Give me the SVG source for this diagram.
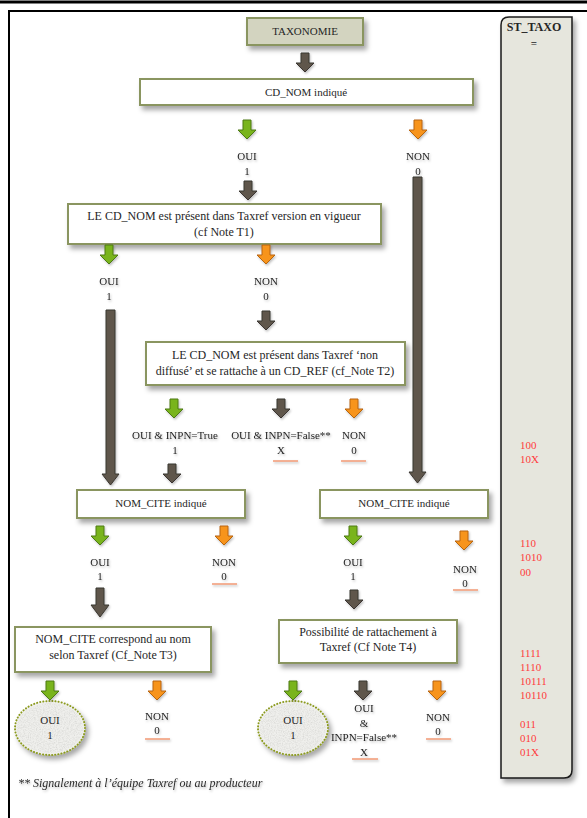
<svg xmlns="http://www.w3.org/2000/svg" width="587" height="818" viewBox="0 0 587 818">
  <style>
    .t { font-family: "Liberation Serif", "Times New Roman", serif; font-size: 11px; fill: #262626; text-anchor: middle; }
    .big { font-size: 12px; }
    .box { fill: #ffffff; stroke: #8a9560; stroke-width: 2; }
    .head { fill: #d3d4c0; stroke: #8a9560; stroke-width: 2; }
    .code { font-family: "Liberation Serif", "Times New Roman", serif; font-size: 11px; fill: #ff3b3b; }
    .dark { fill: #5e574b; stroke: #3b3630; stroke-width: 1; }
    .green { fill: #79b41b; stroke: #4e7a12; stroke-width: 1; }
    .orange { fill: #f7941d; stroke: #b8650f; stroke-width: 1; }
    .ul { stroke: #f29a76; stroke-width: 1.5; }
    .oval { fill: #efefec; stroke: #8b9a1e; stroke-width: 2; stroke-dasharray: 0.1 3; stroke-linecap: round; }
  </style>
  <defs>
    <filter id="sh" x="-20%" y="-20%" width="150%" height="160%">
      <feDropShadow dx="3" dy="4" stdDeviation="2.5" flood-color="#000" flood-opacity="0.35"/>
    </filter>
    <filter id="tsh" x="-10%" y="-30%" width="130%" height="170%">
      <feDropShadow dx="1" dy="1.5" stdDeviation="1" flood-color="#000" flood-opacity="0.25"/>
    </filter>
    <!-- speckled stone texture for the end ovals -->
    <filter id="grain" x="0" y="0" width="100%" height="100%">
      <feTurbulence type="fractalNoise" baseFrequency="0.85" numOctaves="2" seed="4" result="n"/>
      <feColorMatrix in="n" type="matrix" values="0 0 0 0 0.62  0 0 0 0 0.62  0 0 0 0 0.6  0 0 0 1.4 -0.55" result="dots"/>
      <feComposite in="dots" in2="SourceGraphic" operator="in"/>
    </filter>
    <!-- short block arrow, top-centre at origin -->
    <path id="arr" d="M-4,0 H4 V10 H9 L0,19 L-9,10 H-4 Z"/>
  </defs>

  <rect width="587" height="818" fill="#ffffff"/>

  <!-- frame -->
  <line x1="0" y1="2" x2="587" y2="2" stroke="#000" stroke-width="3"/>
  <path d="M9,818 V11 H587" fill="none" stroke="#000" stroke-width="2"/>

  <!-- result column -->
  <g id="st-taxo">
    <path d="M509,17 H572 V770 Q572,778 564,778 H501 V25 Q501,17 509,17 Z" fill="#e6e6dd" stroke="#1a1a1a" stroke-width="1.5" filter="url(#sh)"/>
    <text class="t big" x="534" y="31" font-weight="bold" fill="#222">ST_TAXO</text>
    <text class="t" x="534" y="47" font-weight="bold">=</text>
    <g class="code">
      <text x="520" y="449">100</text>
      <text x="520" y="463">10X</text>
      <text x="520" y="547">110</text>
      <text x="520" y="561">1010</text>
      <text x="520" y="576">00</text>
      <text x="520" y="657">1111</text>
      <text x="520" y="671">1110</text>
      <text x="520" y="685">10111</text>
      <text x="520" y="699">10110</text>
      <text x="520" y="728">011</text>
      <text x="520" y="742">010</text>
      <text x="520" y="756">01X</text>
    </g>
  </g>

  <!-- nodes -->
  <g id="taxonomie">
    <rect class="head" x="247" y="18" width="116" height="27" filter="url(#sh)"/>
    <text class="t" x="305" y="35">TAXONOMIE</text>
  </g>
  <g id="cd-nom">
    <rect class="box" x="140" y="79" width="333" height="26" filter="url(#sh)"/>
    <text class="t" x="306" y="96">CD_NOM indiqué</text>
  </g>
  <g id="taxref-vigueur">
    <rect class="box" x="68" y="204" width="313" height="40" filter="url(#sh)"/>
    <text class="t big" x="224" y="220">LE CD_NOM est présent dans Taxref version en vigueur</text>
    <text class="t big" x="224" y="236">(cf Note T1)</text>
  </g>
  <g id="taxref-non-diffuse">
    <rect class="box" x="146" y="342" width="259" height="43" filter="url(#sh)"/>
    <text class="t big" x="275" y="359">LE CD_NOM est présent dans Taxref ‘non</text>
    <text class="t big" x="275" y="375">diffusé’ et se rattache à un CD_REF (cf_Note T2)</text>
  </g>
  <g id="nom-cite-1">
    <rect class="box" x="77" y="490" width="168" height="28" filter="url(#sh)"/>
    <text class="t" x="161" y="507">NOM_CITE indiqué</text>
  </g>
  <g id="nom-cite-2">
    <rect class="box" x="320" y="490" width="168" height="28" filter="url(#sh)"/>
    <text class="t" x="404" y="507">NOM_CITE indiqué</text>
  </g>
  <g id="nom-cite-taxref">
    <rect class="box" x="15" y="627" width="196" height="45" filter="url(#sh)"/>
    <text class="t big" x="113" y="643">NOM_CITE correspond au nom</text>
    <text class="t big" x="113" y="659">selon Taxref (Cf_Note T3)</text>
  </g>
  <g id="rattachement">
    <rect class="box" x="279" y="620" width="178" height="43" filter="url(#sh)"/>
    <text class="t big" x="368" y="636">Possibilité de rattachement à</text>
    <text class="t big" x="368" y="651">Taxref  (Cf Note T4)</text>
  </g>
  <g id="oui-final-1">
    <ellipse class="oval" cx="50" cy="728" rx="35" ry="27" filter="url(#sh)"/>
    <ellipse cx="50" cy="728" rx="33" ry="25" fill="#fff" filter="url(#grain)"/>
    <text class="t" x="50" y="724">OUI</text>
    <text class="t" x="50" y="739">1</text>
  </g>
  <g id="oui-final-2">
    <ellipse class="oval" cx="293" cy="728" rx="35" ry="27" filter="url(#sh)"/>
    <ellipse cx="293" cy="728" rx="33" ry="25" fill="#fff" filter="url(#grain)"/>
    <text class="t" x="293" y="724">OUI</text>
    <text class="t" x="293" y="739">1</text>
  </g>

  <!-- connectors -->
  <g id="connectors" filter="url(#tsh)">
    <use href="#arr" class="dark" x="305" y="53"/>
    <use href="#arr" class="green" x="247" y="120"/>
    <use href="#arr" class="orange" x="418" y="120"/>
    <use href="#arr" class="dark" x="248" y="181"/>
    <path class="dark" d="M413,177 H422 V472 H426 L417.5,483 L409,472 H413 Z"/>
    <use href="#arr" class="green" x="109" y="245"/>
    <use href="#arr" class="orange" x="266" y="245"/>
    <path class="dark" d="M106,310 H115 V474 H119 L110.5,485 L102,474 H106 Z"/>
    <use href="#arr" class="dark" x="266" y="311"/>
    <use href="#arr" class="green" x="174" y="399"/>
    <use href="#arr" class="dark" x="281" y="399"/>
    <use href="#arr" class="orange" x="354" y="399"/>
    <use href="#arr" class="dark" x="172" y="464"/>
    <use href="#arr" class="green" x="100" y="526"/>
    <use href="#arr" class="orange" x="224" y="526"/>
    <use href="#arr" class="green" x="353" y="526"/>
    <use href="#arr" class="orange" x="464" y="531"/>
    <path class="dark" d="M96,588 H104 V605 H109 L100,617 L91,605 H96 Z"/>
    <use href="#arr" class="dark" x="354" y="590"/>
    <use href="#arr" class="green" x="50" y="681"/>
    <use href="#arr" class="orange" x="157" y="681"/>
    <use href="#arr" class="green" x="293" y="681"/>
    <use href="#arr" class="dark" x="363" y="681"/>
    <use href="#arr" class="orange" x="437" y="681"/>
  </g>

  <!-- branch labels -->
  <g id="labels" filter="url(#tsh)">
    <text class="t" x="247" y="160">OUI</text>
    <text class="t" x="247" y="175">1</text>
    <text class="t" x="418" y="160">NON</text>
    <text class="t" x="418" y="175">0</text>

    <text class="t" x="109" y="285">OUI</text>
    <text class="t" x="109" y="300">1</text>
    <text class="t" x="266" y="285">NON</text>
    <text class="t" x="266" y="300">0</text>

    <text class="t" x="175" y="439">OUI &amp; INPN=True</text>
    <text class="t" x="175" y="454">1</text>
    <text class="t" x="281" y="439">OUI &amp; INPN=False**</text>
    <text class="t" x="281" y="454">X</text>
    <line class="ul" x1="273" y1="461" x2="298" y2="461"/>
    <text class="t" x="354" y="439">NON</text>
    <text class="t" x="354" y="454">0</text>
    <line class="ul" x1="341" y1="461" x2="366" y2="461"/>

    <text class="t" x="100" y="566">OUI</text>
    <text class="t" x="100" y="580">1</text>
    <text class="t" x="224" y="566">NON</text>
    <text class="t" x="224" y="580">0</text>
    <line class="ul" x1="212" y1="584" x2="237" y2="584"/>
    <text class="t" x="353" y="566">OUI</text>
    <text class="t" x="353" y="580">1</text>
    <text class="t" x="465" y="573">NON</text>
    <text class="t" x="465" y="587">0</text>
    <line class="ul" x1="453" y1="590" x2="478" y2="590"/>

    <text class="t" x="157" y="720">NON</text>
    <text class="t" x="157" y="734">0</text>
    <line class="ul" x1="145" y1="739" x2="170" y2="739"/>
    <text class="t" x="364" y="712">OUI</text>
    <text class="t" x="364" y="727">&amp;</text>
    <text class="t" x="364" y="741">INPN=False**</text>
    <text class="t" x="364" y="756">X</text>
    <line class="ul" x1="352" y1="759" x2="378" y2="759"/>
    <text class="t" x="438" y="721">NON</text>
    <text class="t" x="438" y="735">0</text>
    <line class="ul" x1="426" y1="739" x2="451" y2="739"/>
  </g>

  <text x="18" y="787" font-family="Liberation Serif, serif" font-size="12" font-style="italic" fill="#2b2b2b" filter="url(#tsh)">** Signalement à l’équipe Taxref ou au producteur</text>
</svg>
